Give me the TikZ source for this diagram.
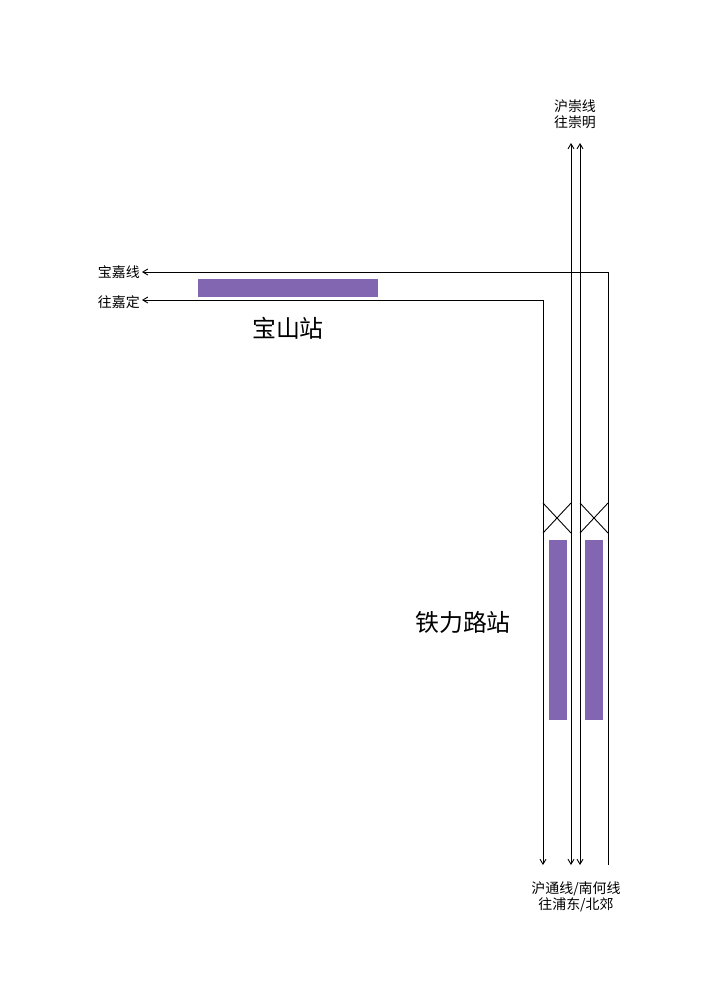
\documentclass[tikz,border=0pt]{standalone}
\usepackage{fontspec}
\newfontfamily\cjk{Noto Sans CJK SC}
\usetikzlibrary{arrows.meta,positioning}

\begin{document}
\begin{tikzpicture}[
  x=1bp, y=-1bp,
  >={Straight Barb[length=5pt,width=6pt]},
  track/.style={draw=black, line width=0.9pt},
  platform/.style={fill=violet!55!black!70!blue!60, draw=none},
  lbl/.style={font=\cjk\fontsize{14}{17}\selectfont, inner sep=0pt, align=center},
  stn/.style={font=\cjk\fontsize{24}{28}\selectfont, inner sep=0pt}
]
\useasboundingbox (0,0) rectangle (720,1008);

% track end points
\coordinate (jdA) at (142,272);
\coordinate (jdB) at (142,300);
\coordinate (cmA) at (571,143);
\coordinate (cmB) at (580,143);
\coordinate (sA) at (543,865);
\coordinate (sB) at (571,865);
\coordinate (sC) at (580,865);
\coordinate (sD) at (608,865);

% labels
\node[lbl, anchor=east] (jd1) at (140,272) {宝嘉线};
\node[lbl, anchor=east] (jd2) at (140,302) {往嘉定};
\node[lbl] (cm) at (575,114) {沪崇线\\[-1pt]往崇明};
\node[lbl] (pd) at (576,897) {沪通线/南何线\\[-1pt]往浦东/北郊};
\node[stn] (bs) at (288,328) {宝山站};
\node[stn] (tl) at (463,622) {铁力路站};

% platforms
\fill[platform] (198,279) rectangle (378,297);
\fill[platform] (549,540) rectangle (567,720);
\fill[platform] (585,540) rectangle (603,720);

% tracks
\draw[track, ->] (sD) -- (608,272) -- (jdA);
\draw[track, ->] (sA |- 0,500) -- (543,300) -- (jdB);
\draw[track, ->] (543,535) -- (sA);
\draw[track, ->] (571,535) -- (sB);
\draw[track, ->] (571,500) -- (cmA);
\draw[track, <->] (cmB) -- (sC);
\draw[track] (571,500) -- (571,535);
\draw[track] (543,500) -- (543,535);

% crossovers
\draw[track] (543,503) -- (571,533) (571,503) -- (543,533);
\draw[track] (580,503) -- (608,533) (608,503) -- (580,533);
\end{tikzpicture}
\end{document}
